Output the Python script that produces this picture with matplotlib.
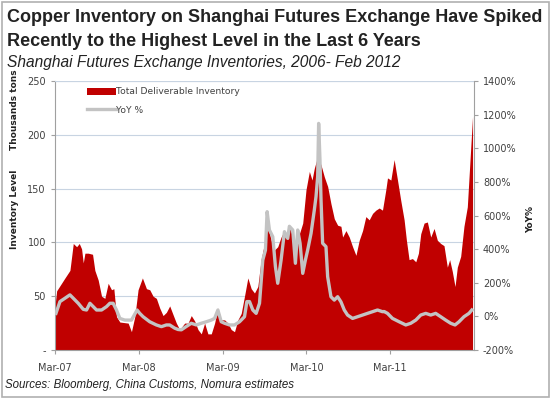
import matplotlib
matplotlib.use("Agg")
import matplotlib.pyplot as plt
from matplotlib.patches import Rectangle

# months since Mar-2007, inventory in thousand tons
inv_month = [0.05, 0.24, 1.43, 2.14, 2.62, 3.1, 3.48, 3.81, 4.05, 4.29, 4.76, 5.38,
             5.71, 6.19, 6.67, 7.14, 7.62, 8.1, 8.43, 8.81, 9.29, 10.48, 10.95, 11.43,
             11.9, 12.52, 13.1, 13.57, 14.05, 14.52, 15.0, 15.48, 15.95, 16.43, 16.9,
             17.38, 17.86, 18.57, 19.05, 19.52, 20.0, 20.48, 20.95, 21.43, 21.9, 22.38,
             22.86, 23.33, 23.81, 24.29, 24.76, 25.24, 25.71, 26.19, 26.67, 27.14, 27.62,
             28.1, 28.57, 29.05, 29.52, 30.0, 30.48, 30.95, 31.43, 31.9, 32.38, 32.86,
             33.33, 33.57, 34.29, 35.0, 35.48, 35.95, 36.43, 36.81, 37.14, 37.62, 38.1,
             38.57, 39.05, 39.52, 40.0, 40.48, 40.95, 41.19, 41.67, 42.14, 42.62, 43.1,
             43.57, 44.05, 44.52, 45.0, 45.48, 45.95, 46.43, 46.9, 47.38, 47.62, 48.1,
             48.57, 49.05, 49.52, 50.0, 50.33, 50.71, 51.19, 51.67, 52.05, 52.38, 52.86,
             53.33, 53.81, 54.29, 54.76, 55.24, 55.71, 56.19, 56.52, 56.9, 57.29, 57.62,
             58.1, 58.57, 59.05, 59.38, 59.8]
inventory = [44, 55, 67, 74, 99, 96, 99, 94, 81, 90, 90, 89,
             74, 65, 50, 48, 62, 56, 57, 31, 26, 25, 17, 31,
             56, 67, 57, 56, 50, 48, 39, 32, 35, 41, 33,
             25, 19, 25, 25, 32, 27, 19, 15, 25, 15, 15,
             25, 39, 28, 28, 25, 19, 17, 28, 34, 50, 67,
             57, 53, 59, 84, 99, 115, 102, 93, 96, 105, 111,
             105, 115, 99, 108, 118, 149, 166, 158, 169, 180, 172,
             161, 152, 136, 122, 116, 115, 105, 111, 105, 96, 88,
             102, 111, 124, 121, 127, 130, 132, 130, 149, 160, 158,
             177, 158, 139, 121, 102, 84, 85, 82, 90, 108, 118,
             119, 105, 113, 102, 99, 97, 77, 84, 73, 59, 77,
             87, 115, 133, 170, 217]

# year-on-year change, %
yoy_month = [0.14, 0.71, 1.43, 2.14, 2.62, 3.33, 4.05, 4.52, 5.0, 5.48, 5.95, 6.67,
             7.38, 7.86, 8.33, 8.81, 9.29, 10.0, 10.95, 11.76, 12.14, 12.62, 13.57,
             14.52, 15.24, 15.95, 16.43, 17.14, 17.62, 18.1, 18.81, 19.52, 20.24, 20.95,
             21.67, 22.38, 22.86, 23.33, 23.81, 24.29, 25.0, 25.71, 26.43, 27.14, 27.48,
             27.86, 28.33, 28.81, 29.29, 29.76, 30.14, 30.38, 30.71, 31.19, 31.57, 31.9,
             32.38, 32.86, 33.33, 33.57, 34.05, 34.43, 34.76, 35.1, 35.48, 35.86, 36.19,
             36.67, 37.14, 37.38, 37.62, 37.76, 37.95, 38.1, 38.33, 38.81, 39.05, 39.52,
             40.0, 40.48, 40.95, 41.43, 41.9, 42.62, 43.33, 44.05, 44.76, 45.48, 46.19,
             46.9, 47.14, 47.62, 48.33, 49.29, 50.24, 50.95, 51.67, 52.38, 53.1, 53.81,
             54.52, 55.24, 55.95, 56.67, 57.29, 57.86, 58.57, 59.29, 59.7]
yoy = [18, 88, 108, 128, 108, 78, 42, 38, 78, 58, 38, 38,
       58, 78, 78, 38, -12, -22, -22, 38, 18, -2, -32,
       -51, -61, -51, -51, -70, -78, -80, -60, -41, -51, -41,
       -32, -22, -12, 38, -32, -41, -51, -51, -32, -2, 88,
       88, 38, 18, 78, 335, 394, 623, 514, 474, 296, 197,
       335, 504, 464, 536, 514, 316, 514, 435, 256, 335, 395,
       494, 633, 712, 831, 1148, 930, 692, 435, 415, 236, 117,
       97, 117, 87, 38, 8, -12, -2, 8, 18, 28, 38,
       28, 29, 18, -12, -32, -51, -41, -22, 8, 18, 8,
       18, -2, -22, -41, -51, -32, -2, 18, 38]

tick_pos = [0, 12, 24, 36, 48]
tick_labels = ["Mar-07", "Mar-08", "Mar-09", "Mar-10", "Mar-11"]

red = "#c00000"
grey = "#c3c3c3"
txt = "#404040"

fig = plt.figure(figsize=(5.52, 3.99), dpi=100)
ax = fig.add_axes([0.0996, 0.1228, 0.759, 0.674])

ax.fill_between(inv_month, inventory, 0, color=red, linewidth=0, label="Total Deliverable Inventory")
ax.set_xlim(0, 60)
ax.set_ylim(0, 250)
ax.set_yticks([0, 50, 100, 150, 200, 250])
ax.set_yticklabels(["-", "50", "100", "150", "200", "250"])
ax.set_xticks(tick_pos)
ax.set_xticklabels(tick_labels)
ax.yaxis.grid(True, color="#c8d4e2", linewidth=0.8)
ax.set_axisbelow(True)
for s in ["top", "right"]:
    ax.spines[s].set_visible(False)
for s in ["left", "bottom"]:
    ax.spines[s].set_color("#a0a0a0")
ax.tick_params(axis="both", colors="#a0a0a0", labelcolor=txt, labelsize=7, length=3, width=0.8)
ax.tick_params(axis="x", pad=6)

ax2 = ax.twinx()
ax2.plot(yoy_month, yoy, color=grey, linewidth=2.4, solid_joinstyle="round", label="YoY %")
ax2.set_ylim(-200, 1400)
ax2.set_yticks(range(-200, 1401, 200))
ax2.set_yticklabels([f"{v}%" for v in range(-200, 1401, 200)])
for s in ["top", "left", "bottom"]:
    ax2.spines[s].set_visible(False)
ax2.spines["right"].set_color("#a0a0a0")
ax2.tick_params(axis="y", colors="#a0a0a0", labelcolor=txt, labelsize=7, length=3, width=0.8)
ax2.set_xlim(0, 60)
ax2.axhline(1400, color="#c8d4e2", linewidth=0.8)

# legend
h1, l1 = ax.get_legend_handles_labels()
h2, l2 = ax2.get_legend_handles_labels()
leg = ax2.legend(h1 + h2, l1 + l2, loc="upper left", bbox_to_anchor=(0.06, 1.0),
                 frameon=False, fontsize=6.6, handlelength=3.2, handleheight=0.9,
                 labelspacing=1.0, handletextpad=0.0, borderaxespad=0.3)
for t in leg.get_texts():
    t.set_color(txt)

# axis titles
fig.text(0.027, 0.725, "Thousands tons", rotation=90, fontsize=6.5, fontweight="bold",
         ha="center", va="center", color="#222222")
fig.text(0.027, 0.475, "Inventory Level", rotation=90, fontsize=6.5, fontweight="bold",
         ha="center", va="center", color="#222222")
fig.text(0.962, 0.45, "YoY%", rotation=90, fontsize=6.5, fontweight="bold",
         ha="center", va="center", color="#222222")

# headings
fig.text(0.013, 0.955, "Copper Inventory on Shanghai Futures Exchange Have Spiked",
         fontsize=13, fontweight="bold", family="Liberation Sans", color="#222222", va="center")
fig.text(0.013, 0.897, "Recently to the Highest Level in the Last 6 Years",
         fontsize=13, fontweight="bold", family="Liberation Sans", color="#222222", va="center")
fig.text(0.013, 0.843, "Shanghai Futures Exchange Inventories, 2006- Feb 2012",
         fontsize=11.2, style="italic", family="Liberation Sans", color="#222222", va="center")
fig.text(0.009, 0.036, "Sources: Bloomberg, China Customs, Nomura estimates",
         fontsize=8.3, style="italic", family="Liberation Sans", color="#222222", va="center")

fig.patches.append(Rectangle((0.004, 0.005), 0.99, 0.99, transform=fig.transFigure,
                             fill=False, edgecolor="#b0b0b0", linewidth=1.2))

fig.savefig("out.png", dpi=100)
